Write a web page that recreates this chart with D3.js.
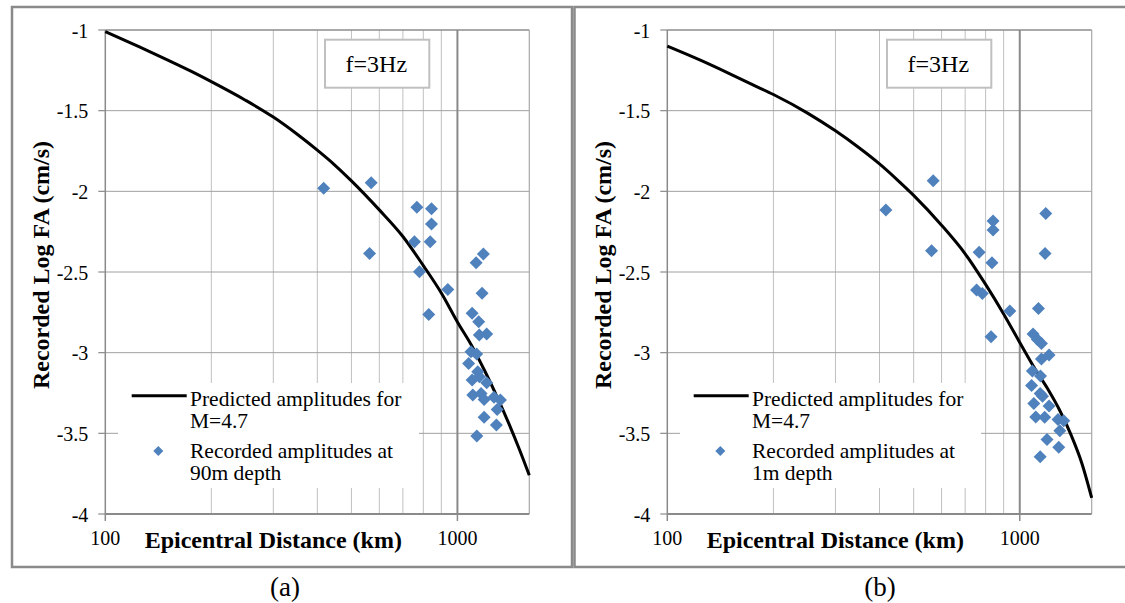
<!DOCTYPE html>
<html><head><meta charset="utf-8">
<script src="https://cdn.jsdelivr.net/npm/d3@7"></script>
<style>body{margin:0;background:#fff}svg{display:block}</style>
</head><body>
<svg id="c" width="1125" height="603"></svg>
<script>
// ---- data ----
const curveDistances = [100,125,150,175,200,250,300,350,400,450,500,600,700,800,900,1000,1100,1200,1300,1400,1500,1600];
const predictedA = [-1.01,-1.105,-1.185,-1.255,-1.32,-1.435,-1.54,-1.645,-1.745,-1.84,-1.935,-2.115,-2.28,-2.46,-2.63,-2.81,-2.96,-3.12,-3.28,-3.44,-3.60,-3.76];
const predictedB = [-1.10,-1.19,-1.27,-1.34,-1.40,-1.515,-1.625,-1.73,-1.83,-1.93,-2.025,-2.21,-2.387,-2.577,-2.76,-2.937,-3.094,-3.224,-3.36,-3.513,-3.685,-3.90];
const recordedA_dist = [417,569,563,767,844,844,755,837,780,939,829,1130,1185,1175,1101,1149,1154,1211,1093,1134,1076,1142,1154,1101,1211,1106,1167,1191,1270,1325,1297,1191,1290,1135];
const recordedA_logFA = [-1.981,-1.947,-2.385,-2.099,-2.108,-2.203,-2.312,-2.312,-2.498,-2.608,-2.763,-2.443,-2.389,-2.632,-2.756,-2.808,-2.891,-2.885,-2.994,-3.009,-3.067,-3.118,-3.149,-3.17,-3.187,-3.263,-3.253,-3.29,-3.277,-3.294,-3.352,-3.401,-3.449,-3.517];
const recordedB_dist = [568,417,1185,840,840,562,767,1180,834,754,783,937,1130,829,1091,1122,1152,1152,1211,1086,1145,1080,1143,1160,1211,1096,1110,1177,1284,1333,1299,1195,1290,1143];
const recordedB_logFA = [-1.934,-2.116,-2.137,-2.184,-2.24,-2.368,-2.378,-2.385,-2.443,-2.612,-2.633,-2.742,-2.726,-2.901,-2.885,-2.918,-2.943,-3.04,-3.015,-3.114,-3.145,-3.203,-3.253,-3.27,-3.331,-3.315,-3.398,-3.401,-3.414,-3.422,-3.484,-3.538,-3.587,-3.645];
const yTicks = [-1,-1.5,-2,-2.5,-3,-3.5,-4];
const yTickLabels = ["-1","-1.5","-2","-2.5","-3","-3.5","-4"];
const xTickValues = [100,1000];
const xTickLabels = ["100","1000"];
const minorGrid = [200,300,400,500,600,700,800,900];
const xDomain = [100,1600];
const yDomain = [-4,-1];
const xTitle = "Epicentral Distance (km)";
const yTitle = "Recorded Log FA (cm/s)";
const freqLabel = "f=3Hz";
const legendLine = ["Predicted amplitudes for","M=4.7"];
const legendPointsA = ["Recorded amplitudes at","90m depth"];
const legendPointsB = ["Recorded amplitudes at","1m depth"];
const panelLabels = ["(a)","(b)"];

const svg = d3.select("#c");
svg.append("rect").attr("width",1125).attr("height",603).attr("fill","#fff");

function diamond(r){return `M0,${-r}L${r},0L0,${r}L${-r},0Z`;}
function txt(sel){return sel.append("text").style("font-family",'"Liberation Serif"').attr("fill","#000");}

function panel(o){
  const g = svg.append("g");
  g.append("rect").attr("x",o.fx0).attr("y",7).attr("width",o.fx1-o.fx0).attr("height",560)
    .attr("fill","none").attr("stroke","#8a8a8a").attr("stroke-width",2.5);
  const x = d3.scaleLog().domain(xDomain).range([o.x0,o.x1]);
  const y = d3.scaleLinear().domain(yDomain).range([514,30]);
  g.selectAll(".mv").data(minorGrid).join("line")
    .attr("x1",d=>x(d)).attr("x2",d=>x(d)).attr("y1",y(-1)).attr("y2",y(-4))
    .attr("stroke","#c0c0c0").attr("stroke-width",1);
  g.selectAll(".hg").data(yTicks.filter(v=>v>-4&&v<-1)).join("line")
    .attr("x1",o.x0).attr("x2",o.x1).attr("y1",d=>y(d)).attr("y2",d=>y(d))
    .attr("stroke","#a0a0a0").attr("stroke-width",1);
  g.append("line").attr("x1",o.x0).attr("x2",o.x1).attr("y1",y(-1)).attr("y2",y(-1)).attr("stroke","#8c8c8c").attr("stroke-width",1.5);
  g.append("line").attr("x1",x(xDomain[1])).attr("x2",x(xDomain[1])).attr("y1",y(-1)).attr("y2",y(-4)).attr("stroke","#a8a8a8").attr("stroke-width",1.2);
  g.append("line").attr("x1",x(1000)).attr("x2",x(1000)).attr("y1",y(-1)).attr("y2",y(-4)).attr("stroke","#8a8a8a").attr("stroke-width",2);
  g.append("rect").attr("x",o.x0+12.7).attr("y",383).attr("width",301).attr("height",105).attr("fill","#fff");
  g.append("line").attr("x1",o.x0).attr("x2",o.x0).attr("y1",y(-1)).attr("y2",y(-4)).attr("stroke","#8a8a8a").attr("stroke-width",1.5);
  g.append("line").attr("x1",o.x0).attr("x2",o.x1).attr("y1",y(-4)).attr("y2",y(-4)).attr("stroke","#8a8a8a").attr("stroke-width",2);
  g.selectAll(".yt").data(yTicks).join("line")
    .attr("x1",o.x0-7).attr("x2",o.x0).attr("y1",d=>y(d)).attr("y2",d=>y(d)).attr("stroke","#8a8a8a").attr("stroke-width",1.2);
  g.selectAll(".xt").data(xTickValues).join("line")
    .attr("x1",d=>x(d)).attr("x2",d=>x(d)).attr("y1",y(-4)).attr("y2",y(-4)+7).attr("stroke","#8a8a8a").attr("stroke-width",1.5);
  yTicks.forEach((v,i)=>{
    txt(g).attr("x",o.x0-17).attr("y",y(v)+7.5).attr("text-anchor","end").attr("font-size",20).text(yTickLabels[i]);
  });
  xTickValues.forEach((v,i)=>{
    txt(g).attr("x",x(v)).attr("y",545).attr("text-anchor","middle").attr("font-size",20).text(xTickLabels[i]);
  });
  txt(g).attr("x",o.x0+168).attr("y",548).attr("text-anchor","middle")
    .attr("font-size",24).attr("font-weight","bold").text(xTitle);
  txt(g).attr("transform",`translate(${o.x0-56},265) rotate(-90)`).attr("text-anchor","middle")
    .attr("font-size",24).attr("font-weight","bold").text(yTitle);
  g.append("rect").attr("x",o.x0+219.7).attr("y",39.7).attr("width",104.3).attr("height",48)
    .attr("fill","#fff").attr("stroke","#c0c0c0").attr("stroke-width",2);
  txt(g).attr("x",o.x0+271).attr("y",72).attr("text-anchor","middle").attr("font-size",24).text(freqLabel);
  const line = d3.line().x(d=>x(d[0])).y(d=>y(d[1])).curve(d3.curveMonotoneX);
  g.append("path").datum(curveDistances.map((d,i)=>[d,o.pred[i]])).attr("d",line)
    .attr("fill","none").attr("stroke","#000").attr("stroke-width",3);
  g.selectAll(".pt").data(o.dist.map((d,i)=>[d,o.vals[i]])).join("path")
    .attr("d",diamond(6.5)).attr("transform",d=>`translate(${x(d[0])},${y(d[1])})`)
    .attr("fill","#4f81bd");
  g.append("line").attr("x1",o.x0+26.4).attr("x2",o.x0+81.4).attr("y1",395.7).attr("y2",395.7).attr("stroke","#000").attr("stroke-width",3);
  txt(g).attr("x",o.x0+84.7).attr("y",405.5).attr("font-size",21.5).text(legendLine[0]);
  txt(g).attr("x",o.x0+84.7).attr("y",427.5).attr("font-size",21.5).text(legendLine[1]);
  g.append("path").attr("d",diamond(5)).attr("transform",`translate(${o.x0+53},451)`).attr("fill","#4f81bd");
  txt(g).attr("x",o.x0+84.7).attr("y",458).attr("font-size",21.5).text(o.leg[0]);
  txt(g).attr("x",o.x0+84.7).attr("y",480).attr("font-size",21.5).text(o.leg[1]);
  txt(svg).attr("x",o.lab).attr("y",596).attr("text-anchor","middle").attr("font-size",27).text(o.label);
}

panel({fx0:12,fx1:572,x0:105.3,x1:529.3,pred:predictedA,dist:recordedA_dist,vals:recordedA_logFA,leg:legendPointsA,label:panelLabels[0],lab:285});
panel({fx0:574.5,fx1:1130,x0:667.3,x1:1091.7,pred:predictedB,dist:recordedB_dist,vals:recordedB_logFA,leg:legendPointsB,label:panelLabels[1],lab:880});
</script>
</body></html>
